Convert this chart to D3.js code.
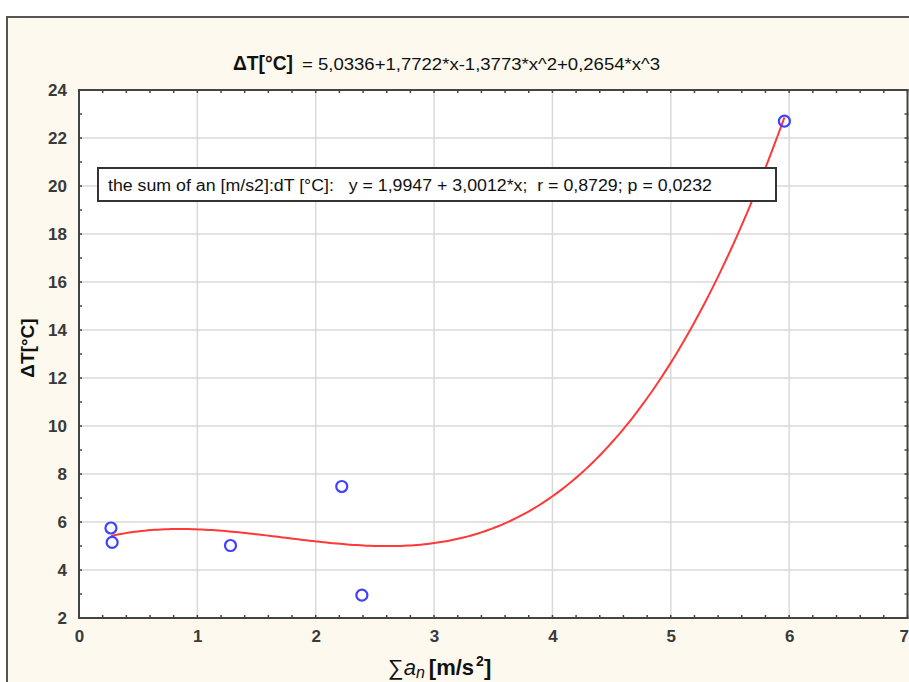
<!DOCTYPE html>
<html><head><meta charset="utf-8">
<script src="https://cdn.jsdelivr.net/npm/d3@7"></script>
<style>
body{margin:0;background:#fff;}
svg{display:block;font-family:"Liberation Sans",Arial,sans-serif;}
</style></head>
<body>
<svg id="c" width="909" height="682"></svg>
<script>
// ---- data ----
const xTickValues = [0, 1, 2, 3, 4, 5, 6, 7];
const yTickValues = [2, 4, 6, 8, 10, 12, 14, 16, 18, 20, 22, 24];
const pointX = [0.27, 0.28, 1.28, 2.22, 2.39, 5.96];
const pointY = [5.75, 5.15, 5.02, 7.48, 2.95, 22.7];
const fitCoefficients = [5.0336, 1.7722, -1.3773, 0.2654]; // from title equation
const fitDomain = [0.27, 5.96];
const titleLeft = "ΔT[°C]";
const titleRight = "= 5,0336+1,7722*x-1,3773*x^2+0,2654*x^3";
const legendText = "the sum of an [m/s2]:dT [°C]:   y = 1,9947 + 3,0012*x;  r = 0,8729; p = 0,0232";
const yTitle = "ΔT[°C]";

// ---- layout ----
const svg = d3.select("#c");
const L = 79, R = 907.5, T = 90, B = 618;
const x = d3.scaleLinear().domain([0, 7]).range([L, R]);
const y = d3.scaleLinear().domain([2, 24]).range([B, T]);

// outer cream panel
svg.append("rect").attr("x", 7).attr("y", 17).attr("width", 910).attr("height", 680)
  .attr("fill", "#fdf9ee").attr("stroke", "#555").attr("stroke-width", 2);

// plot area
svg.append("rect").attr("x", L).attr("y", T).attr("width", R - L).attr("height", B - T).attr("fill", "#fff");

// grid
const g = svg.append("g");
g.selectAll(".gx").data(xTickValues.slice(1, -1)).join("line")
  .attr("x1", d => x(d)).attr("x2", d => x(d)).attr("y1", T).attr("y2", B)
  .attr("stroke", "#d9d9d9").attr("stroke-width", 1.5);
g.selectAll(".gy").data(yTickValues.slice(1, -1)).join("line")
  .attr("y1", d => y(d)).attr("y2", d => y(d)).attr("x1", L).attr("x2", R)
  .attr("stroke", "#d9d9d9").attr("stroke-width", 1.5);

// minor ticks (drawn inside on all four sides)
const xMinor = d3.range(0, 7.001, 0.2);
const yMinor = d3.range(2, 24.001, 1);
const tk = svg.append("g").attr("stroke", "#444").attr("stroke-width", 1.5);
tk.selectAll(".tb").data(xMinor).join("line")
  .attr("x1", d => x(d)).attr("x2", d => x(d)).attr("y1", B - 3).attr("y2", B + 1);
tk.selectAll(".tt").data(xMinor).join("line")
  .attr("x1", d => x(d)).attr("x2", d => x(d)).attr("y1", T - 1).attr("y2", T + 3);
tk.selectAll(".tl").data(yMinor).join("line")
  .attr("y1", d => y(d)).attr("y2", d => y(d)).attr("x1", L - 1).attr("x2", L + 3);
tk.selectAll(".tr").data(yMinor).join("line")
  .attr("y1", d => y(d)).attr("y2", d => y(d)).attr("x1", R - 3).attr("x2", R + 1);

// axes (labels via d3 axis)
const xAxis = d3.axisBottom(x).tickValues(xTickValues).tickFormat(d3.format("d")).tickSize(0).tickPadding(12);
const yAxis = d3.axisLeft(y).tickValues(yTickValues).tickFormat(d3.format("d")).tickSize(0).tickPadding(12);
const gx = svg.append("g").attr("transform", `translate(0,${B})`).call(xAxis);
const gy = svg.append("g").attr("transform", `translate(${L},0)`).call(yAxis);
[gx, gy].forEach(a => {
  a.select(".domain").remove();
  a.selectAll("text").attr("font-family", "'Liberation Sans',Arial,sans-serif")
    .attr("font-size", 17).attr("font-weight", "bold").attr("fill", "#3a3a3a");
});
// keep last x label inside the picture
gx.selectAll(".tick").filter(d => d === 7).select("text").attr("text-anchor", "end").attr("dx", 1);

// frame
svg.append("rect").attr("x", L).attr("y", T).attr("width", R - L).attr("height", B - T)
  .attr("fill", "none").attr("stroke", "#444").attr("stroke-width", 2);

// fit curve
const poly = v => fitCoefficients.reduce((s, c, i) => s + c * Math.pow(v, i), 0);
const xs = d3.range(fitDomain[0], fitDomain[1] + 1e-9, (fitDomain[1] - fitDomain[0]) / 200);
svg.append("path").datum(xs)
  .attr("d", d3.line().x(d => x(d)).y(d => y(poly(d))).curve(d3.curveLinear))
  .attr("fill", "none").attr("stroke", "#ff3838").attr("stroke-width", 2);

// points
svg.selectAll(".pt").data(pointX.map((v, i) => [v, pointY[i]])).join("circle")
  .attr("cx", d => x(d[0])).attr("cy", d => y(d[1])).attr("r", 5.5)
  .attr("fill", "none").attr("stroke", "#4040ff").attr("stroke-width", 2.2);

// legend box
svg.append("rect").attr("x", 98).attr("y", 168).attr("width", 678).attr("height", 33)
  .attr("fill", "#fff").attr("stroke", "#333").attr("stroke-width", 2);
svg.append("text").attr("x", 108).attr("y", 191).attr("font-size", 16)
  .style("white-space", "pre")
  .attr("textLength", 604).attr("lengthAdjust", "spacingAndGlyphs")
  .attr("fill", "#111").text(legendText);

// title
svg.append("text").attr("x", 233).attr("y", 70).attr("font-size", 20).attr("font-weight", "bold")
  .attr("textLength", 60).attr("lengthAdjust", "spacingAndGlyphs").attr("fill", "#111").text(titleLeft);
svg.append("text").attr("x", 302).attr("y", 70).attr("font-size", 16)
  .attr("textLength", 358).attr("lengthAdjust", "spacingAndGlyphs").attr("fill", "#111").text(titleRight);

// y title
svg.append("text").attr("transform", "translate(34,348) rotate(-90)").attr("text-anchor", "middle")
  .attr("font-size", 19).attr("font-weight", "bold").attr("fill", "#111").text(yTitle);

// x title
const xt = svg.append("text").attr("x", 388).attr("y", 675).attr("font-size", 22).attr("fill", "#111");
xt.append("tspan").text("∑");
xt.append("tspan").attr("font-style", "italic").text("a");
xt.append("tspan").attr("font-style", "italic").attr("font-size", 16).attr("dy", 3).text("n");
xt.append("tspan").attr("font-weight", "bold").attr("dy", -3).attr("dx", 4).text("[m/s");
xt.append("tspan").attr("font-weight", "bold").attr("font-size", 14).attr("dy", -9).attr("dx", 2).text("2");
xt.append("tspan").attr("font-weight", "bold").attr("dy", 9).text("]");
</script>
</body></html>
